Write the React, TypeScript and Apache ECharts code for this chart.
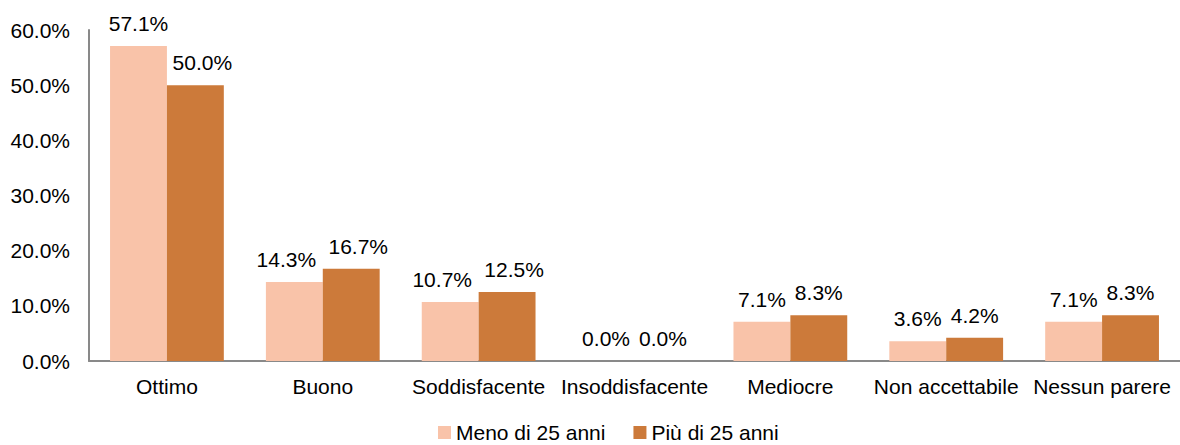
import React, { useEffect, useRef } from "react";
import * as echarts from "echarts";

const categories = ["Ottimo", "Buono", "Soddisfacente", "Insoddisfacente", "Mediocre", "Non accettabile", "Nessun parere"];
const seriesNames = ["Meno di 25 anni", "Più di 25 anni"];
const under25 = [57.1, 14.3, 10.7, 0.0, 7.1, 3.6, 7.1];
const over25 = [50.0, 16.7, 12.5, 0.0, 8.3, 4.2, 8.3];
const colors = ["#F9C3A9", "#CC7A3A"];

export default function App() {
  const ref = useRef<HTMLDivElement>(null);
  useEffect(() => {
    const chart = echarts.init(ref.current!, undefined, { renderer: "svg" });
    const font = "Liberation Sans";
    const fs = 21;
    // wide (5-character) labels that sit next to each other are nudged apart
    const shiftFor = (v: number, dir: number) => {
      if (dir < 0) return v >= 10 && v < 50 ? -8 : 0;
      return v >= 10 ? 7 : 0;
    };
    const mk = (name: string, data: number[], color: string, dir: number) => ({
      name,
      type: "bar",
      data: data.map((v) => ({ value: v, label: { offset: [shiftFor(v, dir), 0] } })),
      barGap: "0%",
      barCategoryGap: "27%",
      itemStyle: { color },
      label: {
        show: true,
        position: "top",
        distance: 12,
        formatter: (p: any) => p.value.toFixed(1) + "%",
        color: "#000",
        fontSize: fs,
        fontFamily: font,
      },
    });
    chart.setOption({
      animation: false,
      textStyle: { fontFamily: font, fontSize: fs },
      grid: { left: 89, right: 0, top: 30, bottom: 84, containLabel: false },
      legend: {
        bottom: 2,
        left: 438,
        padding: 0,
        itemWidth: 13,
        itemHeight: 13,
        itemGap: 28,
        icon: "rect",
        textStyle: { fontSize: fs, lineHeight: 16, color: "#000", fontFamily: font },
        data: seriesNames,
      },
      xAxis: {
        type: "category",
        data: categories,
        axisLine: { lineStyle: { color: "#898989", width: 2 } },
        axisTick: { show: false },
        axisLabel: { fontSize: fs, color: "#000", margin: 15, fontFamily: font, interval: 0 },
      },
      yAxis: {
        type: "value",
        min: 0,
        max: 60,
        interval: 10,
        axisLine: { show: true, lineStyle: { color: "#898989", width: 2 } },
        axisTick: { show: false },
        splitLine: { show: false },
        axisLabel: {
          fontSize: fs,
          color: "#000",
          margin: 19,
          fontFamily: font,
          formatter: (v: number) => v.toFixed(1) + "%",
        },
      },
      series: [mk(seriesNames[0], under25, colors[0], -1), mk(seriesNames[1], over25, colors[1], 1)],
    });
    return () => chart.dispose();
  }, []);
  return <div ref={ref} style={{ position: "fixed", left: 0, top: 0, width: 1180, height: 445, background: "#fff" }} />;
}
